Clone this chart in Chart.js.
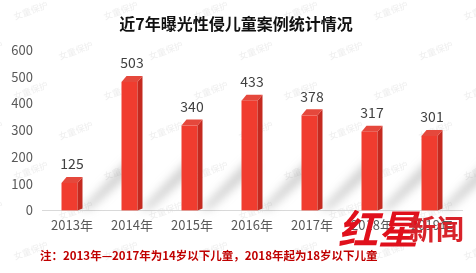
<!DOCTYPE html>
<html><head><meta charset="utf-8">
<script src="https://cdn.jsdelivr.net/npm/chart.js@4.4.0/dist/chart.umd.min.js"></script>
<style>html,body{margin:0;padding:0;background:#fff;}#wrap{width:476px;height:273px;position:relative;}</style>
</head><body><div id="wrap"><canvas id="c" width="476" height="273"></canvas></div>
<script>
const categories = ['2013年','2014年','2015年','2016年','2017年','2018年','2019年'];
const cases = [125, 503, 340, 433, 378, 317, 301];
const yTicks = [0, 100, 200, 300, 400, 500, 600];
const titleText = '近7年曝光性侵儿童案例统计情况';
const noteText = '注：2013年—2017年为14岁以下儿童，2018年起为18岁以下儿童';
const watermarkText = '女童保护';

const DEPTH = 5, CAP = 6;
const font = '"Noto Sans CJK SC", "Noto Sans", sans-serif';

const bg = {
  id: 'bg',
  beforeDraw(chart) {
    const ctx = chart.ctx;
    ctx.save();
    ctx.fillStyle = '#fff';
    ctx.fillRect(0, 0, chart.width, chart.height);
    ctx.fillStyle = 'rgba(200,200,200,0.3)';
    ctx.font = '9px ' + font;
    for (let r = -1; r < 8; r++) {
      for (let c = -1; c < 7; c++) {
        const x = c * 90 + (r % 2) * 45 + 15;
        const y = r * 40 + 20;
        ctx.save();
        ctx.translate(x, y);
        ctx.rotate(-0.35);
        ctx.fillText(watermarkText, 0, 0);
        ctx.restore();
      }
    }
    ctx.restore();
  }
};

const bars3d = {
  id: 'bars3d',
  afterDatasetsDraw(chart) {
    const ctx = chart.ctx;
    const meta = chart.getDatasetMeta(0);
    ctx.save();
    meta.data.forEach((bar) => {
      const right = bar.x + bar.width / 2;
      ctx.save();
      ctx.filter = 'blur(5px)';
      ctx.fillStyle = 'rgba(110,110,110,0.35)';
      ctx.beginPath();
      ctx.moveTo(right - 2, bar.base);
      ctx.lineTo(right + 45, bar.base - 50);
      ctx.lineTo(right + 55, bar.base - 44);
      ctx.lineTo(right + 8, bar.base - 2);
      ctx.closePath();
      ctx.fill();
      ctx.restore();
    });
    meta.data.forEach((bar, i) => {
      const left = bar.x - bar.width / 2;
      const fRight = bar.x + bar.width / 2 - DEPTH;
      const top = bar.y + CAP;
      const base = bar.base;
      ctx.fillStyle = '#f03c2f';
      ctx.fillRect(left, top, fRight - left, base - top);
      ctx.fillStyle = '#c42a20';
      ctx.beginPath();
      ctx.moveTo(fRight, top);
      ctx.lineTo(fRight + DEPTH, bar.y);
      ctx.lineTo(fRight + DEPTH, base - 2);
      ctx.lineTo(fRight, base);
      ctx.closePath();
      ctx.fill();
      ctx.fillStyle = '#e5483c';
      ctx.beginPath();
      ctx.moveTo(left, top);
      ctx.lineTo(left + DEPTH, bar.y);
      ctx.lineTo(fRight + DEPTH, bar.y);
      ctx.lineTo(fRight, top);
      ctx.closePath();
      ctx.fill();
      ctx.fillStyle = '#404040';
      ctx.font = '14px ' + font;
      ctx.textAlign = 'center';
      ctx.textBaseline = 'middle';
      ctx.fillText(String(cases[i]), bar.x, bar.y - 13);
    });
    ctx.restore();
  },
  afterDraw(chart) {
    const ctx = chart.ctx;
    ctx.save();
    ctx.fillStyle = '#111';
    ctx.font = 'bold 16px ' + font;
    ctx.textAlign = 'center';
    ctx.textBaseline = 'middle';
    ctx.fillText(titleText, 236, 24);
    ctx.fillStyle = '#c00000';
    ctx.font = 'bold 11.5px ' + font;
    ctx.textAlign = 'left';
    ctx.fillText(noteText, 40, 256);
    ctx.fillStyle = '#e0101c';
    ctx.font = 'italic bold 40px ' + font;
    ctx.textBaseline = 'alphabetic';
    ctx.fillText('红星', 338, 244);
    ctx.fillStyle = '#d8232a';
    ctx.font = 'bold 28px ' + font;
    ctx.fillText('新闻', 408, 240);
    ctx.restore();
  }
};

new Chart(document.getElementById('c'), {
  type: 'bar',
  data: {
    labels: categories,
    datasets: [{
      data: cases,
      backgroundColor: 'rgba(0,0,0,0)',
      borderWidth: 0,
      barPercentage: 0.7,
      categoryPercentage: 0.5
    }]
  },
  options: {
    responsive: false,
    animation: false,
    devicePixelRatio: 1,
    layout: { padding: { top: 50, right: 14, bottom: 33, left: 0 } },
    plugins: { legend: { display: false }, title: { display: false }, tooltip: { enabled: false } },
    scales: {
      x: {
        grid: { display: false, drawTicks: false },
        border: { display: true, color: '#d9d9d9', width: 1 },
        ticks: { color: '#595959', font: { size: 13, family: font }, padding: 7 }
      },
      y: {
        min: 0, max: 600,
        afterBuildTicks(scale) { scale.ticks = yTicks.map(v => ({ value: v })); },
        afterFit(scale) { scale.width = 42; },
        grid: { display: false, drawTicks: false },
        border: { display: false },
        ticks: { color: '#595959', font: { size: 13, family: font }, padding: 9 }
      }
    }
  },
  plugins: [bg, bars3d]
});
</script></body></html>
